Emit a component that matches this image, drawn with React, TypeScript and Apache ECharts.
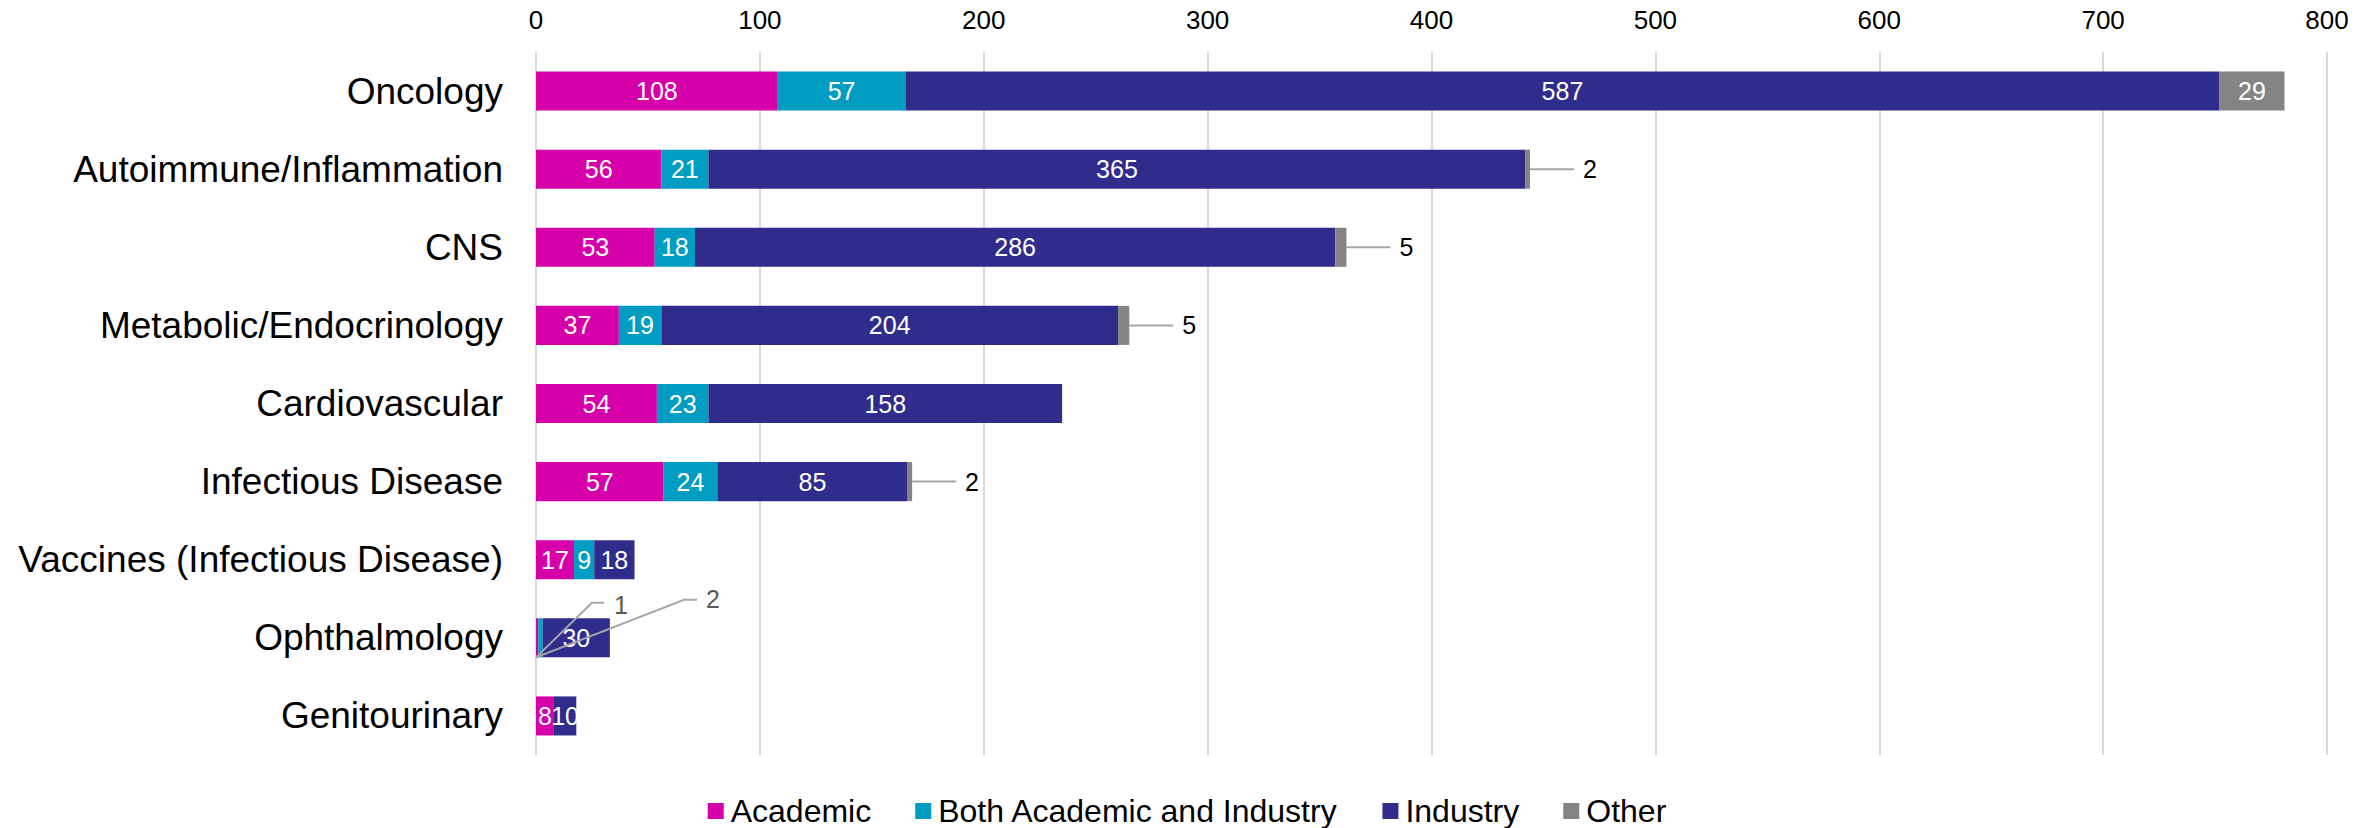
import React, { useEffect, useRef } from 'react';
import * as echarts from 'echarts';

const categories = [
  'Oncology',
  'Autoimmune/Inflammation',
  'CNS',
  'Metabolic/Endocrinology',
  'Cardiovascular',
  'Infectious Disease',
  'Vaccines (Infectious Disease)',
  'Ophthalmology',
  'Genitourinary',
];
const seriesNames = ['Academic', 'Both Academic and Industry', 'Industry', 'Other'];
const academic = [108, 56, 53, 37, 54, 57, 17, 1, 8];
const both = [57, 21, 18, 19, 23, 24, 9, 2, 0];
const industry = [587, 365, 286, 204, 158, 85, 18, 30, 10];
const other = [29, 2, 5, 5, 0, 2, 0, 0, 0];
const xMin = 0;
const xMax = 800;
const xInterval = 100;

// which small values are labelled outside the bar with a leader line
const otherCalloutRows = [1, 2, 3, 5];
const ophthalmologyRow = 7;

const colors = ['#D600AA', '#009CC1', '#302C8C', '#848484'];
const FONT = '"Liberation Sans", Arial, Helvetica, sans-serif';
const valueArrays = [academic, both, industry, other];

function buildData(si: number) {
  const values = valueArrays[si];
  return values.map((v, i) => {
    const hidden =
      v === 0 ||
      (si === 3 && otherCalloutRows.includes(i)) ||
      ((si === 0 || si === 1) && i === ophthalmologyRow);
    return hidden ? { value: v, label: { show: false } } : v;
  });
}

// callout data: [anchor x value, category index, label value, kind]
const calloutData: number[][] = [
  ...otherCalloutRows.map((i) => [
    academic[i] + both[i] + industry[i] + other[i],
    i,
    other[i],
    0,
  ]),
  [0, ophthalmologyRow, academic[ophthalmologyRow], 1],
  [0, ophthalmologyRow, both[ophthalmologyRow], 2],
];

export default function App() {
  const ref = useRef<HTMLDivElement>(null);
  useEffect(() => {
    const chart = echarts.init(ref.current!, null, { renderer: 'svg' });
    const lineStyle = { stroke: '#A6A6A6', lineWidth: 2, fill: null };
    chart.setOption({
      animation: false,
      backgroundColor: '#fff',
      textStyle: { fontFamily: FONT },
      grid: { left: 536, right: 47, top: 52, bottom: 73, containLabel: false },
      xAxis: {
        type: 'value',
        position: 'top',
        min: xMin,
        max: xMax,
        interval: xInterval,
        axisLine: { show: false },
        axisTick: { show: false },
        axisLabel: { fontSize: 26, color: '#000', margin: 19, fontFamily: FONT },
        splitLine: { show: true, lineStyle: { color: '#D9D9D9', width: 2 } },
      },
      yAxis: {
        type: 'category',
        inverse: true,
        data: categories,
        axisLine: { show: false },
        axisTick: { show: false },
        axisLabel: { fontSize: 37, color: '#000', margin: 33, fontFamily: FONT },
      },
      legend: {
        data: seriesNames,
        left: 'center',
        top: 795,
        padding: 0,
        icon: 'rect',
        itemWidth: 16,
        itemHeight: 16,
        itemGap: 44,
        textStyle: {
          fontSize: 32,
          lineHeight: 32,
          color: '#000',
          fontFamily: FONT,
          padding: [0, 0, 0, 2],
        },
      },
      series: [
        ...seriesNames.map((name, si) => ({
          name,
          type: 'bar',
          stack: 'total',
          barWidth: '50%',
          itemStyle: { color: colors[si] },
          label: {
            show: true,
            position: 'inside',
            color: '#fff',
            fontSize: 25,
            fontFamily: FONT,
            formatter: (p: any) => (p.value === 0 ? '' : String(p.value)),
          },
          data: buildData(si),
        })),
        {
          name: 'callouts',
          type: 'custom',
          coordinateSystem: 'cartesian2d',
          encode: { x: 0, y: 1 },
          silent: true,
          clip: false,
          z: 10,
          data: calloutData,
          renderItem: (params: any, api: any) => {
            const x = api.value(0);
            const cat = api.value(1);
            const val = api.value(2);
            const kind = api.value(3);
            const p = api.coord([x, cat]);
            const band = api.size([0, 1])[1];
            const half = band * 0.25;
            if (kind === 0) {
              return {
                type: 'group',
                children: [
                  {
                    type: 'line',
                    shape: { x1: p[0], y1: p[1], x2: p[0] + 44, y2: p[1] },
                    style: lineStyle,
                  },
                  {
                    type: 'text',
                    x: p[0] + 53,
                    y: p[1],
                    style: {
                      text: String(val),
                      fill: '#000',
                      fontSize: 25,
                      fontFamily: FONT,
                      align: 'left',
                      verticalAlign: 'middle',
                    },
                  },
                ],
              };
            }
            const yb = p[1] + half;
            const turnX = kind === 1 ? 56 : 148;
            const endX = kind === 1 ? 68 : 161;
            const lineDy = kind === 1 ? -35 : -38;
            const textX = kind === 1 ? 78 : 170;
            const textDy = kind === 1 ? -33 : -39;
            return {
              type: 'group',
              children: [
                {
                  type: 'polyline',
                  shape: {
                    points: [
                      [p[0], yb],
                      [p[0] + turnX, p[1] + lineDy],
                      [p[0] + endX, p[1] + lineDy],
                    ],
                  },
                  style: lineStyle,
                },
                {
                  type: 'text',
                  x: p[0] + textX,
                  y: p[1] + textDy,
                  style: {
                    text: String(val),
                    fill: '#595959',
                    fontSize: 25,
                    fontFamily: FONT,
                    align: 'left',
                    verticalAlign: 'middle',
                  },
                },
              ],
            };
          },
        },
      ],
    });
    return () => chart.dispose();
  }, []);
  return (
    <div
      ref={ref}
      style={{ position: 'fixed', left: 0, top: 0, width: 2374, height: 828, background: '#fff' }}
    />
  );
}
